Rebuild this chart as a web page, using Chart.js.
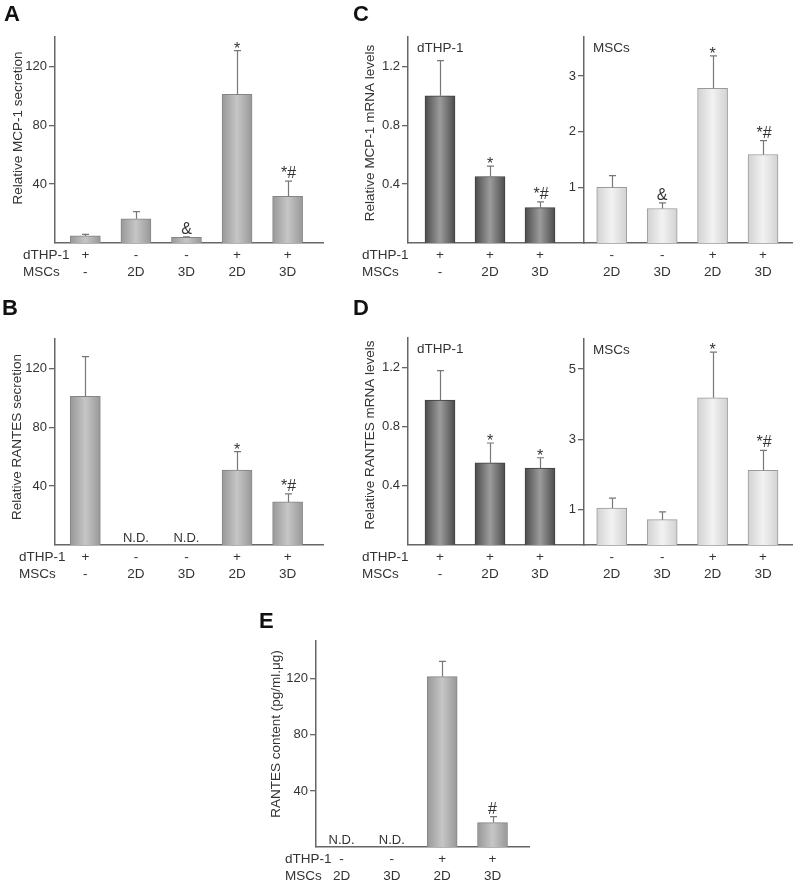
<!DOCTYPE html>
<html><head><meta charset="utf-8">
<script src="https://cdn.jsdelivr.net/npm/chart.js@4.4.1/dist/chart.umd.min.js"></script>
<style>
html,body{margin:0;padding:0;background:#fff;}
#fig{position:relative;width:794px;height:882px;overflow:hidden;background:#fff;}
#fig canvas{position:absolute;left:0;top:0;}
</style></head><body><div id="fig"></div>
<script>
// ---------- DATA ----------
// Panel A: Relative MCP-1 secretion
const dthpA = ['+', '-', '-', '+', '+'];
const mscA  = ['-', '2D', '3D', '2D', '3D'];
const mcp1Secretion      = [4.8, 16.4, 3.9, 101, 31.8];
const mcp1SecretionErr   = [1.1, 4.9, 0.3, 29.8, 10.2];
const mcp1SecretionMarks = ['', '', '&', '*', '*#'];
const secretionTicks = [40, 80, 120];

// Panel B: Relative RANTES secretion
const rantesSecretion      = [101, null, null, 51, 29.3];
const rantesSecretionErr   = [27, 0, 0, 12.5, 5.4];
const rantesSecretionMarks = ['', 'N.D.', 'N.D.', '*', '*#'];

// Panel C: Relative MCP-1 mRNA levels
const dthpCellsDthp = ['+', '+', '+'];
const dthpCellsMsc  = ['-', '2D', '3D'];
const mscCellsDthp  = ['-', '-', '+', '+'];
const mscCellsMsc   = ['2D', '3D', '2D', '3D'];
const mcp1mRNA_dTHP      = [1.0, 0.452, 0.24];
const mcp1mRNA_dTHPErr   = [0.24, 0.07, 0.04];
const mcp1mRNA_dTHPMarks = ['', '*', '*#'];
const mcp1mRNA_MSC       = [1.0, 0.62, 2.78, 1.59];
const mcp1mRNA_MSCErr    = [0.21, 0.10, 0.58, 0.25];
const mcp1mRNA_MSCMarks  = ['', '&', '*', '*#'];
const mRNAdTHPTicks = [0.4, 0.8, 1.2];
const mcp1MSCTicks  = [1, 2, 3];

// Panel D: Relative RANTES mRNA levels
const rantesmRNA_dTHP      = [0.98, 0.555, 0.52];
const rantesmRNA_dTHPErr   = [0.20, 0.135, 0.07];
const rantesmRNA_dTHPMarks = ['', '*', '*'];
const rantesmRNA_MSC       = [1.05, 0.72, 4.18, 2.12];
const rantesmRNA_MSCErr    = [0.28, 0.22, 1.30, 0.57];
const rantesmRNA_MSCMarks  = ['', '', '*', '*#'];
const rantesMSCTicks = [1, 3, 5];

// Panel E: RANTES content (pg/ml.μg)
const dthpE = ['-', '-', '+', '+'];
const mscE  = ['2D', '3D', '2D', '3D'];
const rantesContent      = [null, null, 121.6, 17.4];
const rantesContentErr   = [0, 0, 10.8, 4.3];
const rantesContentMarks = ['N.D.', 'N.D.', '', '#'];
const contentTicks = [40, 80, 120];

// ---------- STYLE ----------
const FONT = '"Liberation Sans", Arial, Helvetica, sans-serif';
const TXT = '#333';
const AXIS = '#666';
const MID   = {edge: '#989898', mid: '#c6c6c6', border: '#858585'};
const DARK  = {edge: '#4c4c4c', mid: '#9c9c9c', border: '#3e3e3e'};
const LIGHT = {edge: '#d2d2d2', mid: '#f2f2f2', border: '#9a9a9a'};
const BAR_W = 30;
const TICK_FS = 13.5, TICK_LH = 16.9, TICK_PAD = 3.5;

function barFill(pal) {
  return (c) => {
    const chart = c.chart;
    const xs = chart.scales && chart.scales.x;
    if (!xs || c.dataIndex === undefined || !chart.chartArea) return pal.mid;
    const cx = xs.getPixelForValue(c.dataIndex);
    const g = chart.ctx.createLinearGradient(cx - BAR_W / 2, 0, cx + BAR_W / 2, 0);
    g.addColorStop(0, pal.edge);
    g.addColorStop(0.5, pal.mid);
    g.addColorStop(1, pal.edge);
    return g;
  };
}

const extras = {
  id: 'extras',
  afterDatasetsDraw(chart, args, o) {
    const ctx = chart.ctx, ds = chart.data.datasets[0];
    const xs = chart.scales.x, ys = chart.scales.y;
    ctx.save();
    ctx.strokeStyle = '#777';
    ctx.lineWidth = 1.2;
    ds.data.forEach((pt, i) => {
      if (pt.y == null) return;
      const e = ds.errors[i];
      if (!e) return;
      const x = Math.round(xs.getPixelForValue(pt.x)) + 0.5;
      const y0 = ys.getPixelForValue(pt.y);
      const y1 = ys.getPixelForValue(pt.y + e);
      ctx.beginPath();
      ctx.moveTo(x, y0); ctx.lineTo(x, y1);
      ctx.moveTo(x - 3.5, y1); ctx.lineTo(x + 3.5, y1);
      ctx.stroke();
    });
    // significance marks and N.D.
    ctx.fillStyle = TXT;
    ctx.textAlign = 'center';
    ctx.textBaseline = 'alphabetic';
    ds.data.forEach((pt, i) => {
      const m = ds.marks[i];
      if (!m) return;
      const x = xs.getPixelForValue(pt.x);
      if (pt.y == null) {
        ctx.font = '13px ' + FONT;
        ctx.fillText(m, x, ys.getPixelForValue(0) - 3);
        return;
      }
      ctx.font = '16px ' + FONT;
      const top = ys.getPixelForValue(pt.y + (ds.errors[i] || 0));
      const mt = ctx.measureText(m);
      ctx.fillText(m, x + (m.length > 1 ? 1 : 0), top - 3 - mt.actualBoundingBoxDescent);
    });
    ctx.restore();
  },
  afterDraw(chart, args, o) {
    const ctx = chart.ctx, ca = chart.chartArea;
    ctx.save();
    ctx.fillStyle = TXT;
    if (o.letter) {
      ctx.font = 'bold 22px ' + FONT;
      ctx.fillStyle = '#111';
      ctx.textAlign = 'left'; ctx.textBaseline = 'alphabetic';
      ctx.fillText(o.letter.text, o.letter.x, o.letter.y);
      ctx.fillStyle = TXT;
    }
    if (o.yTitle) {
      ctx.save();
      ctx.font = '13.5px ' + FONT;
      ctx.translate(o.yTitle.x, o.yTitle.y);
      ctx.rotate(-Math.PI / 2);
      ctx.textAlign = 'center'; ctx.textBaseline = 'middle';
      ctx.fillText(o.yTitle.text, 0, 0);
      ctx.restore();
    }
    if (o.rowLabelX != null) {
      ctx.font = TICK_FS + 'px ' + FONT;
      ctx.textAlign = 'left'; ctx.textBaseline = 'middle';
      const y1 = ca.bottom + TICK_PAD + TICK_LH / 2;
      ctx.fillText('dTHP-1', o.rowLabelX, y1);
      ctx.fillText('MSCs', o.rowLabelX, y1 + TICK_LH);
    }
    if (o.inner) {
      ctx.font = '13.5px ' + FONT;
      ctx.textAlign = 'left'; ctx.textBaseline = 'middle';
      ctx.fillText(o.inner, ca.left + 9, ca.top + 11);
    }
    ctx.restore();
  }
};

function makePanel(p) {
  const cv = document.createElement('canvas');
  cv.width = 794; cv.height = 882;
  cv.style.width = '794px'; cv.style.height = '882px';
  document.getElementById('fig').appendChild(cv);
  const YW = 45, XH = 45;
  new Chart(cv, {
    type: 'bar',
    data: {
      datasets: [{
        data: p.values.map((v, i) => ({x: i, y: v})),
        errors: p.errors,
        marks: p.marks,
        backgroundColor: barFill(p.palette),
        borderColor: p.palette.border,
        borderWidth: 1,
        barThickness: BAR_W
      }]
    },
    options: {
      responsive: false,
      animation: false,
      events: [],
      layout: {padding: {left: p.box.left - YW, top: p.box.top, right: 794 - p.box.right, bottom: 882 - p.box.bottom - XH}},
      plugins: {
        legend: {display: false},
        tooltip: {enabled: false},
        extras: {letter: p.letter, yTitle: p.yTitle, rowLabelX: p.rowLabelX, inner: p.inner}
      },
      scales: {
        x: {
          type: 'linear',
          offset: false,
          min: p.xRange[0], max: p.xRange[1],
          afterFit: s => { s.height = XH; },
          afterBuildTicks: s => { s.ticks = p.dthp.map((_, i) => ({value: i})); },
          ticks: {
            autoSkip: false, maxRotation: 0, padding: TICK_PAD,
            color: TXT,
            font: {family: FONT, size: TICK_FS, lineHeight: TICK_LH / TICK_FS},
            callback: v => { const i = Math.round(v); return [p.dthp[i], p.msc[i]]; }
          },
          grid: {display: false, drawTicks: false, tickLength: 0, offset: false},
          border: {display: true, color: AXIS, width: 1.5}
        },
        y: {
          min: 0, max: p.yMax,
          afterFit: s => { s.width = YW; },
          afterBuildTicks: s => { s.ticks = p.yTicks.map(v => ({value: v})); },
          ticks: {
            padding: 2, color: TXT,
            font: {family: FONT, size: 13},
            callback: v => String(v)
          },
          grid: {drawOnChartArea: false, drawTicks: true, tickLength: 6, color: AXIS, lineWidth: 1.3},
          border: {display: true, color: AXIS, width: 1.5}
        }
      }
    },
    plugins: [extras]
  });
}

makePanel({values: mcp1Secretion, errors: mcp1SecretionErr, marks: mcp1SecretionMarks,
  dthp: dthpA, msc: mscA, yTicks: secretionTicks, yMax: 140, palette: MID,
  box: {left: 55, top: 37, right: 323, bottom: 243}, xRange: [-0.6, 4.7],
  letter: {text: 'A', x: 4, y: 21}, yTitle: {text: 'Relative MCP-1 secretion', x: 18, y: 128}, rowLabelX: 23});

makePanel({values: rantesSecretion, errors: rantesSecretionErr, marks: rantesSecretionMarks,
  dthp: dthpA, msc: mscA, yTicks: secretionTicks, yMax: 140, palette: MID,
  box: {left: 55, top: 339, right: 323, bottom: 545}, xRange: [-0.6, 4.7],
  letter: {text: 'B', x: 2, y: 315}, yTitle: {text: 'Relative RANTES secretion', x: 17, y: 437}, rowLabelX: 19});

makePanel({values: mcp1mRNA_dTHP, errors: mcp1mRNA_dTHPErr, marks: mcp1mRNA_dTHPMarks,
  dthp: dthpCellsDthp, msc: dthpCellsMsc, yTicks: mRNAdTHPTicks, yMax: 1.4, palette: DARK,
  box: {left: 408, top: 37, right: 584, bottom: 243}, xRange: [-0.64, 2.88],
  letter: {text: 'C', x: 353, y: 21}, yTitle: {text: 'Relative MCP-1 mRNA levels', x: 370, y: 133}, rowLabelX: 362, inner: 'dTHP-1'});

makePanel({values: mcp1mRNA_MSC, errors: mcp1mRNA_MSCErr, marks: mcp1mRNA_MSCMarks,
  dthp: mscCellsDthp, msc: mscCellsMsc, yTicks: mcp1MSCTicks, yMax: 3.7, palette: LIGHT,
  box: {left: 584, top: 37, right: 792, bottom: 243}, xRange: [-0.55, 3.575], inner: 'MSCs'});

makePanel({values: rantesmRNA_dTHP, errors: rantesmRNA_dTHPErr, marks: rantesmRNA_dTHPMarks,
  dthp: dthpCellsDthp, msc: dthpCellsMsc, yTicks: mRNAdTHPTicks, yMax: 1.4, palette: DARK,
  box: {left: 408, top: 338, right: 584, bottom: 545}, xRange: [-0.64, 2.88],
  letter: {text: 'D', x: 353, y: 315}, yTitle: {text: 'Relative RANTES mRNA levels', x: 370, y: 435}, rowLabelX: 362, inner: 'dTHP-1'});

makePanel({values: rantesmRNA_MSC, errors: rantesmRNA_MSCErr, marks: rantesmRNA_MSCMarks,
  dthp: mscCellsDthp, msc: mscCellsMsc, yTicks: rantesMSCTicks, yMax: 5.85, palette: LIGHT,
  box: {left: 584, top: 339, right: 792, bottom: 545}, xRange: [-0.55, 3.575], inner: 'MSCs'});

makePanel({values: rantesContent, errors: rantesContentErr, marks: rantesContentMarks,
  dthp: dthpE, msc: mscE, yTicks: contentTicks, yMax: 147, palette: MID,
  box: {left: 316, top: 641, right: 529, bottom: 847}, xRange: [-0.507, 3.725],
  letter: {text: 'E', x: 259, y: 628}, yTitle: {text: 'RANTES content (pg/ml.μg)', x: 276, y: 734}, rowLabelX: 285});
</script>
</body></html>
